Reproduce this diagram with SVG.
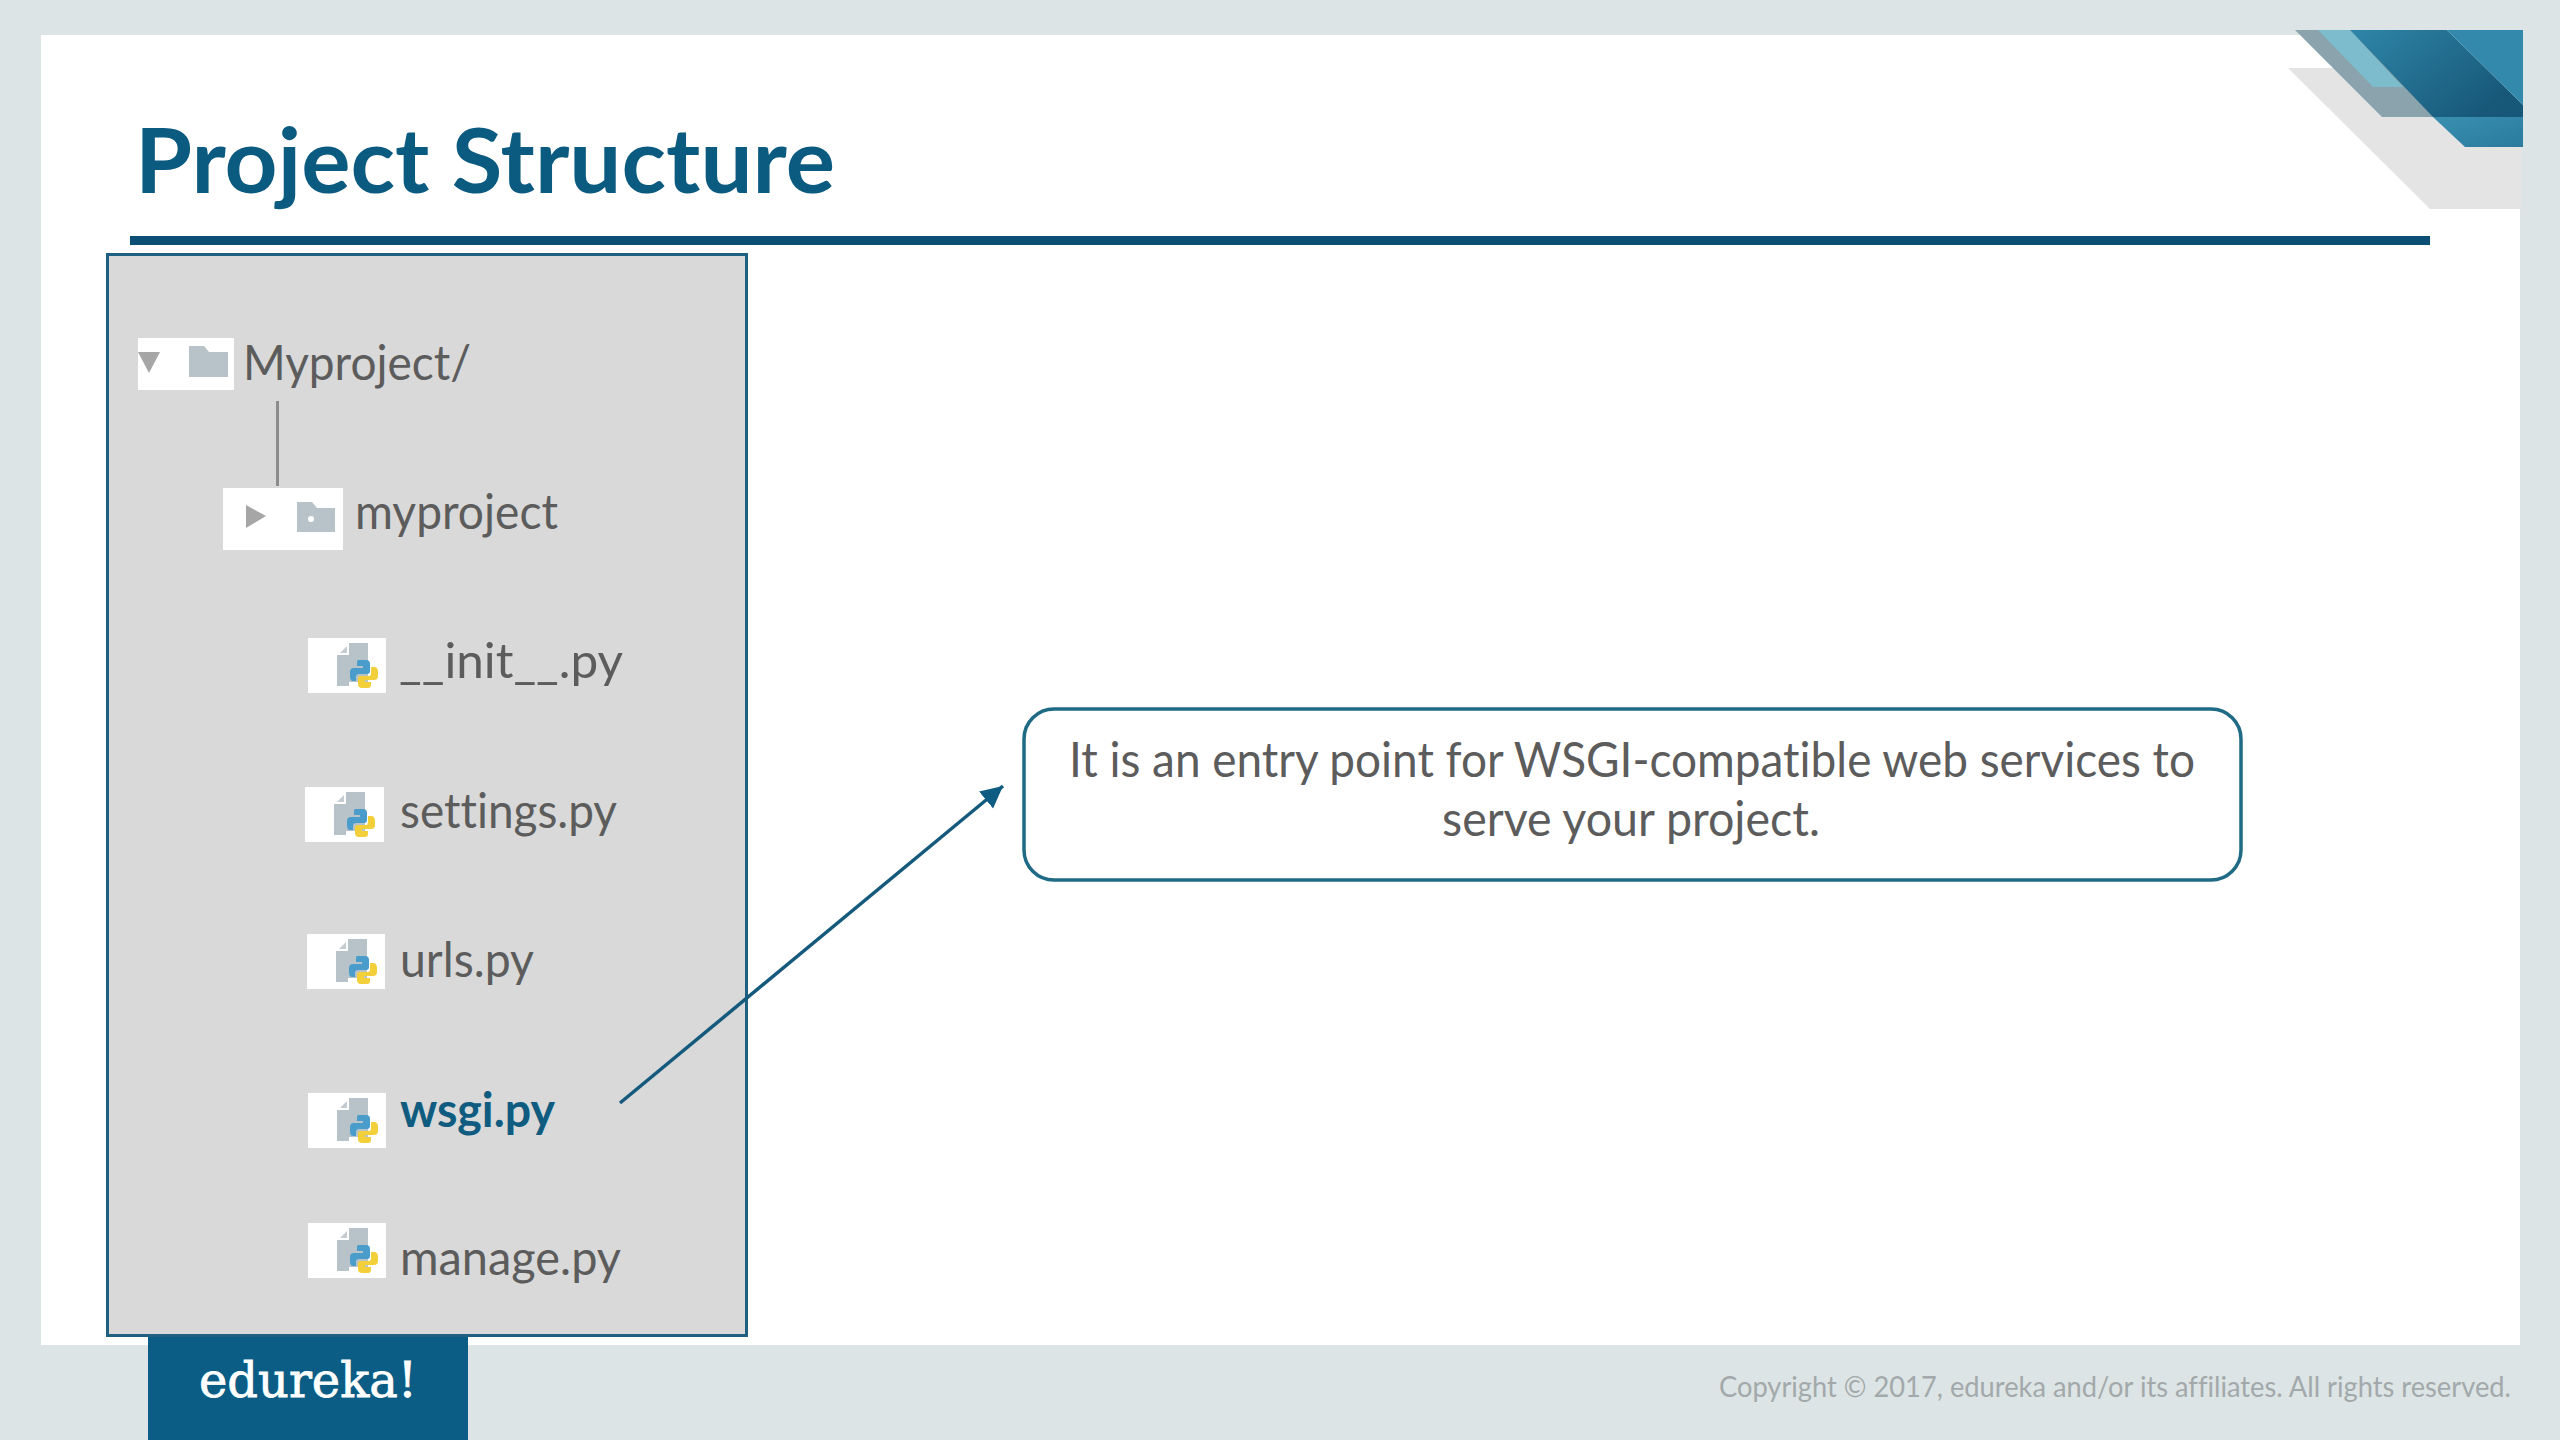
<svg xmlns="http://www.w3.org/2000/svg" width="2560" height="1440" viewBox="0 0 2560 1440">
<style>
text{font-variant-ligatures:none}
.t{font-family:Lato,"Open Sans",sans-serif;font-size:48px;fill:#5c5c5c}
.w{fill:#fff}
.ico{fill:#b8c2c9}
.tri{fill:#a6a6a6}
</style>
<defs>
<linearGradient id="g1" x1="0" y1="0" x2="1" y2="0.6"><stop offset="0" stop-color="#2f86a8"/><stop offset="1" stop-color="#175778"/></linearGradient>
<linearGradient id="g2" x1="0" y1="0" x2="1" y2="1"><stop offset="0" stop-color="#3a8fb0"/><stop offset="1" stop-color="#2a7b9e"/></linearGradient>
<marker id="arr" markerUnits="userSpaceOnUse" markerWidth="24" markerHeight="24" refX="22" refY="11" orient="auto"><path d="M0 0L22 11L0 22Z" fill="#0f5c82"/></marker>
<g id="pyfile">
<path class="ico" d="M41 5H60V44H41Z"/><path class="ico" d="M29 17H41V48H29Z"/>
<path d="M32 15L39 8V15Z" fill="#c4ccd2"/>
<path d="M50 22H58Q62 22 62 26V33Q62 36 59 36H51Q48 36 48 39V43H45Q42 43 42 38V34Q42 30 46 30H55V28H49V25Q49 22 50 22Z" fill="#4a9ccb"/>
<path d="M63 29H66Q70 29 70 34V38Q70 42 66 42H57V44H63V47Q63 50 60 50H54Q50 50 50 46V41Q50 38 53 38H61Q63 38 63 35Z" fill="#f3cf3a"/>
</g>
</defs>
<rect width="2560" height="1440" fill="#dde4e5"/>
<rect x="41" y="35" width="2479" height="1310" fill="#fff"/>
<g id="corner">
<path d="M2288 68H2522V209H2430Z" fill="#e4e4e4"/>
<path d="M2295 30H2350L2440 117H2382Z" fill="#8aa3ad"/>
<path d="M2318 30H2350L2403 87H2373Z" fill="#7cbccd"/>
<path d="M2350 30H2447L2523 105V117H2433Z" fill="url(#g1)"/>
<path d="M2447 30H2523V105Z" fill="#3389ab"/>
<path d="M2433 117H2523V147H2465Z" fill="url(#g2)"/>
</g>
<g id="title">
<text x="135" y="193" font-family="Lato,'Open Sans',sans-serif" font-weight="700" font-size="90" fill="#0b5a80" textLength="700" lengthAdjust="spacingAndGlyphs">Project Structure</text>
<rect x="130" y="236" width="2300" height="9" fill="#0b4f75"/>
</g>
<g id="footer">
<rect x="148" y="1335" width="320" height="105" fill="#0b5d85"/>
<text x="199" y="1397" font-family="'DejaVu Serif',serif" font-size="48" fill="#fff" stroke="#fff" stroke-width=".8" textLength="218" lengthAdjust="spacingAndGlyphs">edureka!</text>
<text x="1719" y="1397" font-family="Lato,sans-serif" font-size="28" fill="#a3a9ab" textLength="792" lengthAdjust="spacingAndGlyphs">Copyright © 2017, edureka and/or its affiliates. All rights reserved.</text>
</g>
<rect id="panel" x="107.500" y="254.500" width="639" height="1081" fill="#d9d9d9" stroke="#1f5f7f" stroke-width="3"/>
<g id="root">
<rect class="w" x="138" y="338" width="96" height="52"/>
<path class="tri" d="M138 352H160L149 373Z"/>
<path class="ico" d="M189 346H204L209 352H228V377H189Z"/>
<text class="t" x="243" y="380" textLength="228" lengthAdjust="spacingAndGlyphs">Myproject/</text>
</g>
<g id="myproject">
<rect class="w" x="223" y="488" width="120" height="62"/>
<path class="tri" d="M246 505L266 516L246 528Z"/>
<path class="ico" d="M297 502H312L317 508H335V532H297Z"/>
<circle cx="311" cy="519" r="3" fill="#fff"/>
<text class="t" x="355" y="529" textLength="203" lengthAdjust="spacingAndGlyphs">myproject</text>
</g>
<g id="init">
<rect class="w" x="308" y="638" width="78" height="55"/>
<use href="#pyfile" x="308" y="638"/>
<text class="t" x="399" y="678" textLength="224" lengthAdjust="spacingAndGlyphs">__init__.py</text>
</g>
<g id="settings">
<rect class="w" x="305" y="787" width="79" height="55"/>
<use href="#pyfile" x="305" y="787"/>
<text class="t" x="400" y="828" textLength="217" lengthAdjust="spacingAndGlyphs">settings.py</text>
</g>
<g id="urls">
<rect class="w" x="307" y="934" width="78" height="55"/>
<use href="#pyfile" x="307" y="934"/>
<text class="t" x="400" y="977" textLength="134" lengthAdjust="spacingAndGlyphs">urls.py</text>
</g>
<g id="wsgi">
<rect class="w" x="308" y="1093" width="78" height="55"/>
<use href="#pyfile" x="308" y="1093"/>
<text class="t" x="400" y="1127" font-weight="700" style="fill:#0f5c80" textLength="155" lengthAdjust="spacingAndGlyphs">wsgi.py</text>
</g>
<g id="manage">
<rect class="w" x="308" y="1223" width="78" height="55"/>
<use href="#pyfile" x="308" y="1223"/>
<text class="t" x="400" y="1275" textLength="221" lengthAdjust="spacingAndGlyphs">manage.py</text>
</g>
<g id="connectors">
<line x1="277.500" y1="401" x2="277.500" y2="486" stroke="#8c8c8c" stroke-width="3"/>
<line x1="620" y1="1103" x2="1003" y2="786" stroke="#155a7c" stroke-width="3.500" marker-end="url(#arr)"/>
</g>
<g id="callout">
<rect x="1024" y="709" width="1217" height="171" rx="30" fill="#fff" stroke="#1f6a85" stroke-width="3.500"/>
<text class="t" x="1069" y="777" textLength="1126" lengthAdjust="spacingAndGlyphs">It is an entry point for WSGI-compatible web services to</text>
<text class="t" x="1442" y="836" textLength="378" lengthAdjust="spacingAndGlyphs">serve your project.</text>
</g>
</svg>
